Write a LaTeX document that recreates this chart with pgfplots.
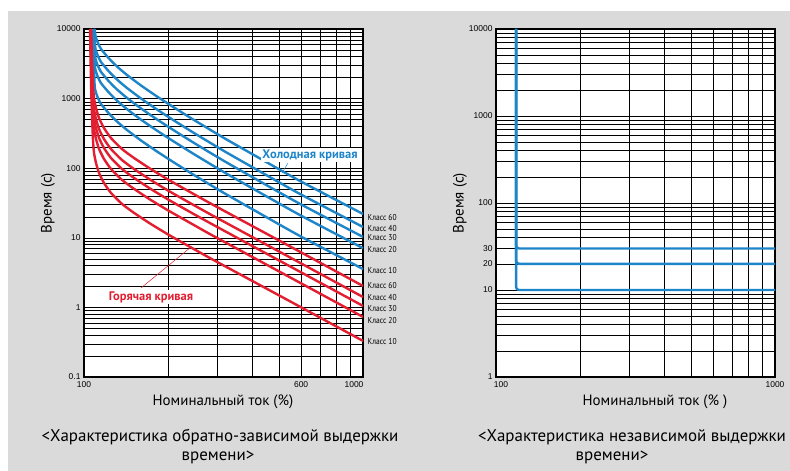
\documentclass[border=0pt]{standalone}
\usepackage{pgfplots}
\pgfplotsset{compat=1.18}
\usepackage{fontspec}
\setmainfont{PT Sans}
\newfontfamily\tickfont{Liberation Sans}
\definecolor{bg}{RGB}{218,218,218}
\definecolor{cblue}{RGB}{30,134,200}
\definecolor{cred}{RGB}{226,30,48}
\begin{document}
\begin{tikzpicture}
\fill[white] (0bp,0bp) rectangle (790bp,471bp);
\fill[bg] (8bp,0bp) rectangle (790bp,460bp);
\useasboundingbox (0bp,0bp) rectangle (790bp,471bp);

% ---------------- left chart ----------------
\begin{axis}[xmode=log, ymode=log, scale only axis, width=279bp, height=348bp, anchor=south west,
  at={(84bp,94bp)}, xmin=100, xmax=1000, ymin=0.1, ymax=10000,
  axis background/.style={fill=white},
  grid=both,
  major grid style={black, line width=0.5bp},
  minor grid style={black, line width=0.4bp},
  axis line style={black, line width=1.2bp},
  major tick length=0pt, minor tick length=0pt,
  ticklabel style={font=\tickfont\fontsize{8.5}{10}\selectfont},
  xticklabel style={yshift=-1.5bp},
  xtick={100,1000}, xticklabels={100,{\hspace*{-18bp}1000}},
  extra x ticks={600}, extra x tick labels={600},
  ytick={0.1,1,10,100,1000,10000}, yticklabels={0.1,1,10,100,1000,10000},
  every axis plot/.append style={line width=2.4bp, smooth, tension=0.35}]
% cold curves (class 60, 40, 30, 20, 10)
\addplot[cblue] coordinates {(109.1,10000)(110.0,7934)(111.8,6506)(115.1,5159)(122.9,3768)(131.3,2892)(142.6,2184)(160.1,1543)(182.7,1072)(210.2,745)(247.9,492.7)(317.5,271.6)(427.5,137.9)(594.6,65.5)(1000,22.0)};
\addplot[cblue] coordinates {(108.6,10000)(109.1,6500)(110.0,5157)(111.8,4229)(115.1,3353)(122.9,2449)(131.3,1880)(142.6,1420)(160.1,1003)(182.7,696.8)(210.2,484.3)(247.9,320.3)(317.5,176.5)(427.5,89.6)(594.6,42.6)(1000,14.3)};
\addplot[cblue] coordinates {(108.3,10000)(109.1,4680)(110.0,3713)(111.8,3045)(115.1,2414)(122.9,1763)(131.3,1353)(142.6,1022)(160.1,722.1)(182.7,501.7)(210.2,348.7)(247.9,230.6)(317.5,127.1)(427.5,64.5)(594.6,30.7)(1000,10.3)};
\addplot[cblue] coordinates {(108.1,10000)(109.1,3230)(110.0,2563)(111.8,2101)(115.1,1666)(122.9,1217)(131.3,934.1)(142.6,705.4)(160.1,498.4)(182.7,346.3)(210.2,240.6)(247.9,159.1)(317.5,87.7)(427.5,44.5)(594.6,21.2)(1000,7.1)};
\addplot[cblue] coordinates {(107.7,10000)(109.1,1620)(110.0,1285)(111.8,1054)(115.1,835.8)(122.9,610.4)(131.3,468.5)(142.6,353.8)(160.1,250.0)(182.7,173.7)(210.2,120.7)(247.9,79.8)(317.5,44.0)(427.5,22.3)(594.6,10.6)(1000,3.56)};
% hot curves (class 60, 40, 30, 20, 10)
\addplot[cred] coordinates {(106.0,10000)(106.8,3586)(107.7,1568)(108.6,1020)(110.4,732.5)(113.2,526.3)(117.9,378.1)(124.9,271.6)(136.8,188.7)(151.1,140.2)(172.5,98.7)(200.0,68.8)(239.9,45.5)(285.2,30.9)(393.6,15.37)(594.6,6.29)(1000,2.03)};
\addplot[cred] coordinates {(105.8,10000)(106.0,6950)(106.8,2492)(107.7,1090)(108.6,708.9)(110.4,509.1)(113.2,365.8)(117.9,262.8)(124.9,188.8)(136.8,131.1)(151.1,97.4)(172.5,68.6)(200.0,47.8)(239.9,31.6)(285.2,21.5)(393.6,10.68)(594.6,4.37)(1000,1.41)};
\addplot[cred] coordinates {(105.6,10000)(106.0,5170)(106.8,1854)(107.7,810.7)(108.6,527.3)(110.4,378.7)(113.2,272.1)(117.9,195.5)(124.9,140.4)(136.8,97.6)(151.1,72.5)(172.5,51.0)(200.0,35.6)(239.9,23.5)(285.2,16.0)(393.6,7.95)(594.6,3.25)(1000,1.05)};
\addplot[cred] coordinates {(105.4,10000)(106.0,3600)(106.8,1291)(107.7,564.5)(108.6,367.2)(110.4,263.7)(113.2,189.5)(117.9,136.1)(124.9,97.8)(136.8,67.9)(151.1,50.5)(172.5,35.5)(200.0,24.8)(239.9,16.4)(285.2,11.1)(393.6,5.53)(594.6,2.26)(1000,0.73)};
\addplot[cred] coordinates {(105.1,10000)(106.0,1626)(106.8,583.1)(107.7,255.0)(108.6,165.9)(110.4,119.1)(113.2,85.6)(117.9,61.5)(124.9,44.2)(136.8,30.7)(151.1,22.8)(172.5,16.05)(200.0,11.19)(239.9,7.40)(285.2,5.02)(393.6,2.50)(594.6,1.023)(1000,0.33)};
\end{axis}

% annotations left
\draw[cblue, line width=0.5bp] (288bp,308bp) -- (282bp,298bp);
\node[fill=white, inner sep=1bp, text=cblue, font=\bfseries\fontsize{12.5}{14}\selectfont] at (310bp,316bp) {Холодная кривая};
\draw[cred, line width=0.5bp] (141bp,183bp) -- (191bp,224bp);
\node[fill=white, inner sep=1bp, text=cred, font=\bfseries\fontsize{12.5}{14}\selectfont] at (151bp,174bp) {Горячая кривая};
\begin{scope}[every node/.style={anchor=west, inner sep=0pt, font=\fontsize{8.6}{9}\selectfont}]
\node at (367.5bp,253.3bp) {\scalebox{0.88}[1]{Класс 60}};
\node at (367.5bp,242.0bp) {\scalebox{0.88}[1]{Класс 40}};
\node at (367.5bp,233.3bp) {\scalebox{0.88}[1]{Класс 30}};
\node at (367.5bp,221.0bp) {\scalebox{0.88}[1]{Класс 20}};
\node at (367.5bp,200.3bp) {\scalebox{0.88}[1]{Класс 10}};
\node at (367.5bp,185.0bp) {\scalebox{0.88}[1]{Класс 60}};
\node at (367.5bp,173.3bp) {\scalebox{0.88}[1]{Класс 40}};
\node at (367.5bp,162.7bp) {\scalebox{0.88}[1]{Класс 30}};
\node at (367.5bp,150.3bp) {\scalebox{0.88}[1]{Класс 20}};
\node at (367.5bp,129.3bp) {\scalebox{0.88}[1]{Класс 10}};
\end{scope}
\node[font=\fontsize{15}{17}\selectfont] at (223bp,69bp) {Номинальный ток (\%)};
\node[rotate=90, font=\fontsize{15}{17}\selectfont] at (48bp,268bp) {Время (с)};
\node[font=\fontsize{17}{19}\selectfont] at (220bp,34bp) {<Характеристика обратно-зависимой выдержки};
\node[font=\fontsize{17}{19}\selectfont] at (218bp,14bp) {времени>};

% ---------------- right chart ----------------
\begin{axis}[xmode=log, ymode=log, scale only axis, width=279bp, height=348bp, anchor=south west,
  at={(496bp,94bp)}, xmin=100, xmax=1000, ymin=1, ymax=10000,
  axis background/.style={fill=white},
  grid=both,
  major grid style={black, line width=0.5bp},
  minor grid style={black, line width=0.4bp},
  axis line style={black, line width=1.2bp},
  major tick length=0pt, minor tick length=0pt,
  ticklabel style={font=\tickfont\fontsize{8.5}{10}\selectfont},
  xticklabel style={yshift=-1.5bp},
  xtick={100,1000}, xticklabels={{\hspace*{10bp}100},1000},
  ytick={1,10,100,1000,10000}, yticklabels={1,10,100,1000,10000},
  extra y ticks={20,30}, extra y tick labels={20,30},
  every axis plot/.append style={line width=2.4bp}]
\addplot[cblue, rounded corners=3bp] coordinates {(118,10000)(118,30)(1000,30)};
\addplot[cblue, rounded corners=3bp] coordinates {(118,10000)(118,20)(1000,20)};
\addplot[cblue, rounded corners=3bp] coordinates {(118,10000)(118,10)(1000,10)};
\end{axis}
\node[font=\fontsize{15}{17}\selectfont] at (655bp,69bp) {Номинальный ток (\% )};
\node[rotate=90, font=\fontsize{15}{17}\selectfont] at (460bp,268bp) {Время (с)};
\node[font=\fontsize{17}{19}\selectfont] at (632bp,34bp) {<Характеристика независимой выдержки};
\node[font=\fontsize{17}{19}\selectfont] at (612bp,14bp) {времени>};
\end{tikzpicture}
\end{document}
